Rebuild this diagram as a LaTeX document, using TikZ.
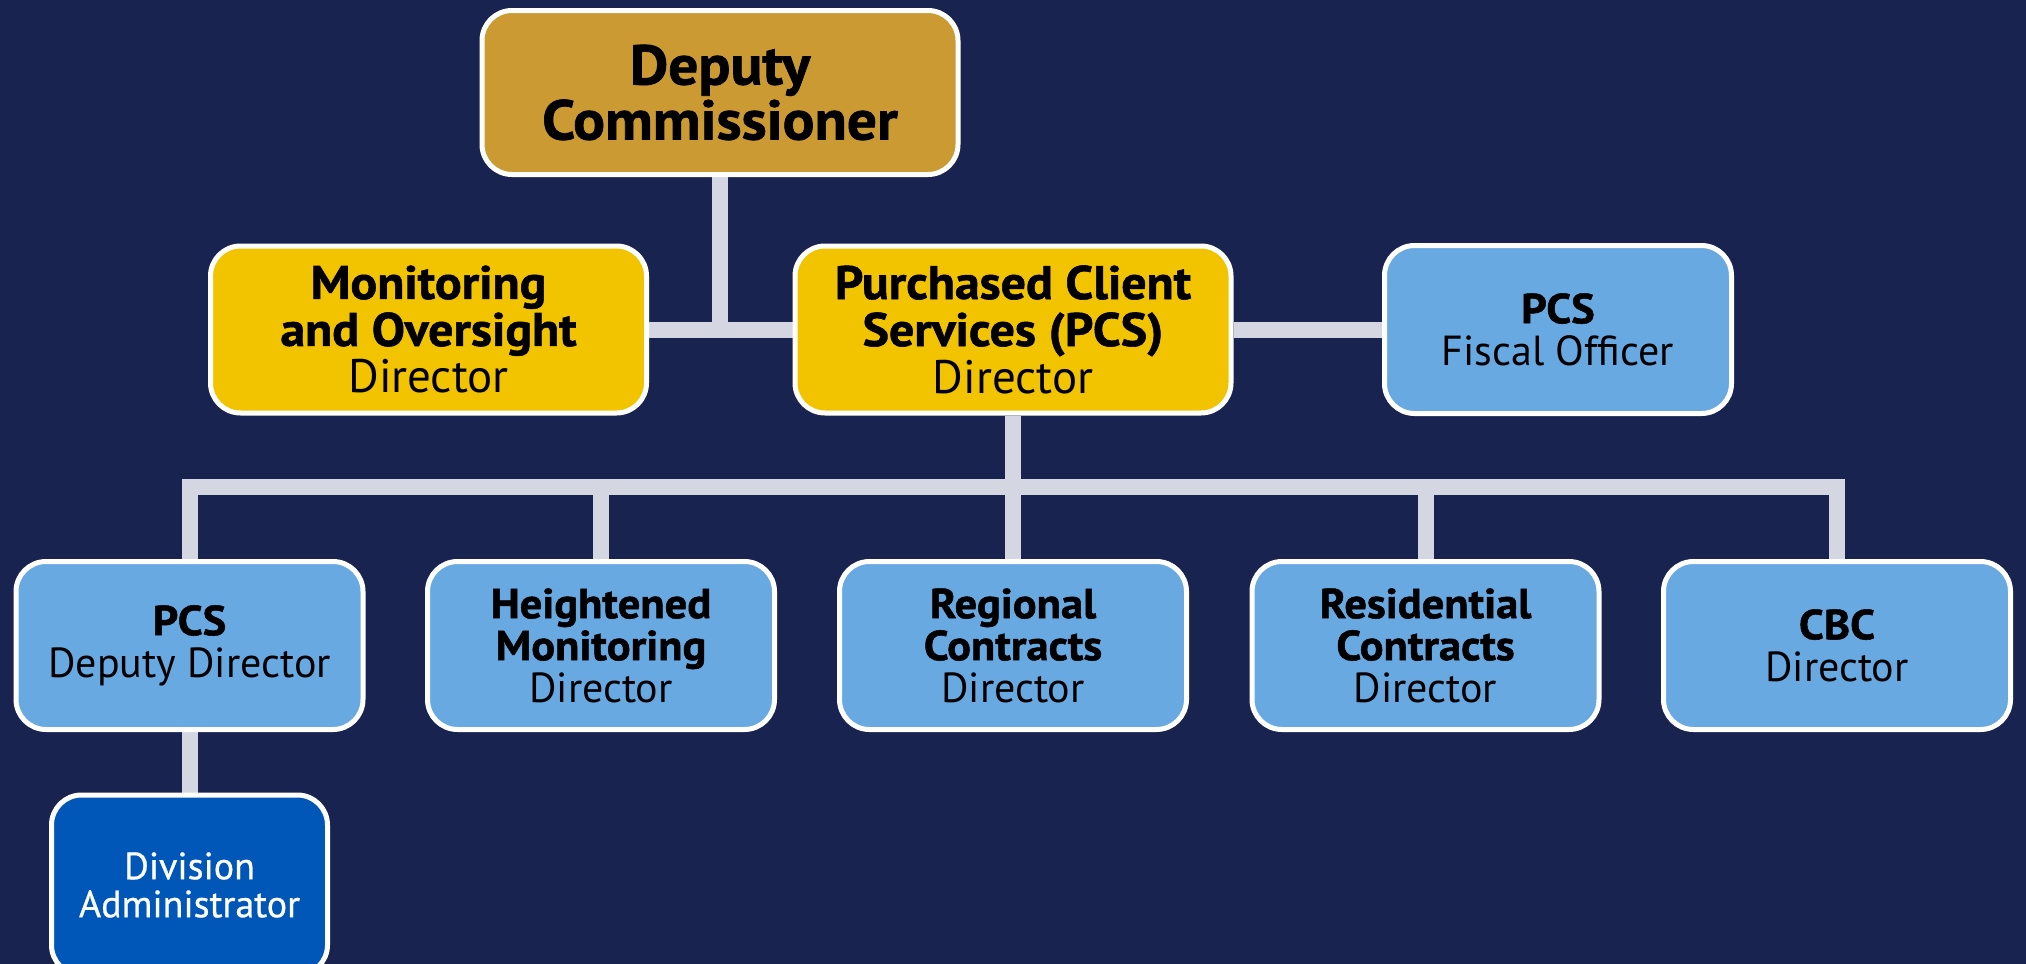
\documentclass[tikz,border=0pt]{standalone}
\usepackage{fontspec}
\setmainfont{PT Sans}[BoldFeatures={FakeStretch=1.06,FakeBold=1.2}]
\newfontfamily\semifont{PT Sans}[FakeBold=0.6]
\usetikzlibrary{backgrounds}
\definecolor{bgnavy}{HTML}{192350}
\definecolor{goldfill}{HTML}{CB9A32}
\definecolor{yellowfill}{HTML}{F2C400}
\definecolor{lightbluefill}{HTML}{68A9E2}
\definecolor{darkbluefill}{HTML}{0057B8}
\definecolor{connclr}{HTML}{D4D7E2}
\begin{document}
\begin{tikzpicture}[x=0.5pt,y=-0.5pt,
  box/.style={draw=white, line width=2.5pt, rounded corners=15pt, align=center, inner sep=0pt, text=black},
  topbox/.style={box, fill=goldfill, minimum width=238pt, minimum height=82pt,
     font=\fontsize{28pt}{27.5pt}\selectfont\bfseries},
  midbox/.style={box, fill=yellowfill, minimum width=218pt, minimum height=83.5pt,
     font=\fontsize{23.5pt}{23.5pt}\selectfont},
  lowbox/.style={box, fill=lightbluefill, minimum width=173.5pt, minimum height=84pt,
     font=\fontsize{21pt}{21pt}\selectfont},
  adminbox/.style={box, fill=darkbluefill, minimum width=138pt, minimum height=90pt, text=white,
     font=\fontsize{19pt}{19pt}\semifont},
  conn/.style={draw=connclr, line width=8pt, line join=miter}]
\clip (0,0) rectangle (2026,964);
\useasboundingbox (0,0) rectangle (2026,964);

\node[topbox] (dc) at (720,92.5) {Deputy\\Commissioner};
\node[midbox] (mo) at (428.5,329.5) {\textbf{Monitoring}\\\textbf{and Oversight}\\Director};
\node[midbox] (pcs) at (1013,329.5) {\textbf{Purchased Client}\\\textbf{Services (PCS)}\\Director};
\node[lowbox] (fo) at (1558,329.5) {\textbf{PCS}\\Fiscal Officer};

\node[lowbox] (b1) at (189.5,645.5) {\textbf{PCS}\\Deputy Director};
\node[lowbox] (b2) at (601,645.5) {\textbf{Heightened}\\\textbf{Monitoring}\\Director};
\node[lowbox] (b3) at (1013,645.5) {\textbf{Regional}\\\textbf{Contracts}\\Director};
\node[lowbox] (b4) at (1425.5,645.5) {\textbf{Residential}\\\textbf{Contracts}\\Director};
\node[lowbox] (b5) at (1837,645.5) {\textbf{CBC}\\Director};

\node[adminbox] (da) at (189.5,885) {Division\\Administrator};

\coordinate (bus) at (1013,487);

\begin{scope}[on background layer]
  \fill[bgnavy] (0,0) rectangle (2026,964);
  \draw[conn] (mo.east) -- (pcs.west);
  \draw[conn] (dc.south) -- (dc.south |- mo.east);
  \draw[conn] (pcs.east) -- (fo.west);
  \draw[conn] (pcs.south) -- (b3.north);
  \draw[conn] (b1.north) |- (bus) -| (b5.north);
  \draw[conn] (b2.north) -- (b2.north |- bus);
  \draw[conn] (b4.north) -- (b4.north |- bus);
  \draw[conn] (b1.south) -- (da.north);
\end{scope}
\end{tikzpicture}
\end{document}
